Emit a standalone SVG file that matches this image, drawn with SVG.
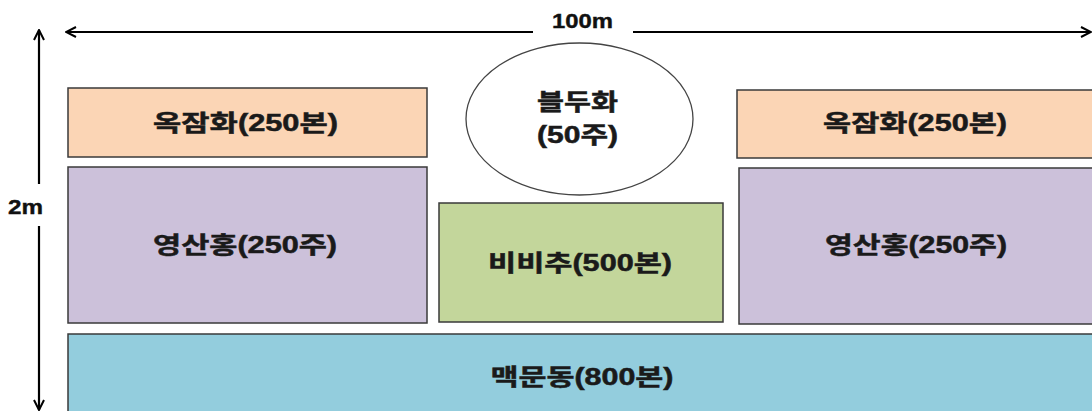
<svg xmlns="http://www.w3.org/2000/svg" width="1092" height="411" viewBox="0 0 1092 411">
<defs>
<style>
.box{stroke:#3a3a3a;stroke-width:1.5}
.t{font-family:"Liberation Sans","Noto Sans CJK KR",sans-serif;font-weight:bold;font-size:23px;fill:#1a1a1a;stroke:#1a1a1a;stroke-width:0.5;text-anchor:middle}
.dim{font-family:"Liberation Sans","Noto Sans CJK KR",sans-serif;font-weight:bold;font-size:21px;fill:#111;stroke:#111;stroke-width:0.4;text-anchor:middle}
.ln{stroke:#000;stroke-width:2.2;fill:none}
</style>
<marker id="head" viewBox="0 0 12 12" refX="11" refY="6" markerWidth="12" markerHeight="12" markerUnits="userSpaceOnUse" orient="auto-start-reverse">
<polyline points="1,1 11,6 1,11" fill="none" stroke="#000" stroke-width="2"/>
</marker>
</defs>
<rect width="1092" height="411" fill="#fff"/>
<g id="connectors">
<line class="ln" x1="66" y1="32" x2="533" y2="32" marker-start="url(#head)"/>
<line class="ln" x1="633" y1="32" x2="1091" y2="32" marker-end="url(#head)"/>
<line class="ln" x1="39" y1="30" x2="39" y2="184" marker-start="url(#head)"/>
<line class="ln" x1="39" y1="226" x2="39" y2="410" marker-end="url(#head)"/>
<text class="dim" x="582.5" y="28" textLength="61" lengthAdjust="spacingAndGlyphs">100m</text>
<text class="dim" x="25.5" y="213.5" textLength="35" lengthAdjust="spacingAndGlyphs">2m</text>
</g>
<g id="okjamhwa-left">
<rect class="box" x="68" y="88" width="359" height="69" fill="#FBD5B5"/>
<text class="t" x="245.5" y="131" textLength="185" lengthAdjust="spacingAndGlyphs">옥잠화(250본)</text>
</g>
<g id="bulduhwa">
<ellipse cx="579.5" cy="119" rx="113.5" ry="76" fill="#fff" stroke="#444" stroke-width="1.3"/>
<text class="t" x="577.5" y="110" textLength="81" lengthAdjust="spacingAndGlyphs">블두화</text>
<text class="t" x="577.5" y="143" textLength="81" lengthAdjust="spacingAndGlyphs">(50주)</text>
</g>
<g id="okjamhwa-right">
<rect class="box" x="737" y="90" width="360" height="68" fill="#FBD5B5"/>
<text class="t" x="915" y="131" textLength="184" lengthAdjust="spacingAndGlyphs">옥잠화(250본)</text>
</g>
<g id="yeongsanhong-left">
<rect class="box" x="68" y="167" width="359" height="156" fill="#CCC1DA"/>
<text class="t" x="245" y="253" textLength="184" lengthAdjust="spacingAndGlyphs">영산홍(250주)</text>
</g>
<g id="bibichu">
<rect class="box" x="439" y="203" width="284" height="119" fill="#C3D69B"/>
<text class="t" x="580" y="271" textLength="184" lengthAdjust="spacingAndGlyphs">비비추(500본)</text>
</g>
<g id="yeongsanhong-right">
<rect class="box" x="739" y="168" width="360" height="156" fill="#CCC1DA"/>
<text class="t" x="916" y="253" textLength="182" lengthAdjust="spacingAndGlyphs">영산홍(250주)</text>
</g>
<g id="maekmundong">
<rect class="box" x="68" y="334" width="1030" height="90" fill="#93CDDD"/>
<text class="t" x="582" y="385" textLength="183" lengthAdjust="spacingAndGlyphs">맥문동(800본)</text>
</g>
</svg>
